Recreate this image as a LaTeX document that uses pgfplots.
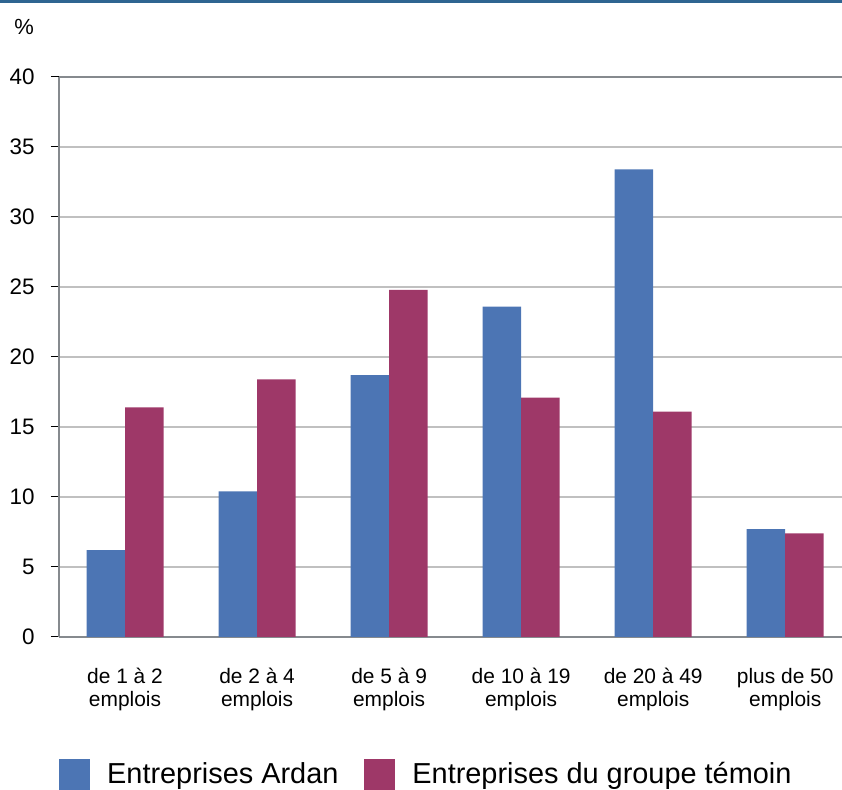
\documentclass[border=0pt]{standalone}
\usepackage{fontspec}
\setmainfont{Liberation Sans}
\usepackage{pgfplots}
\pgfplotsset{compat=1.18}
\definecolor{ardan}{HTML}{4C75B4}
\definecolor{temoin}{HTML}{9E3868}
\definecolor{axisgray}{HTML}{868A8E}
\definecolor{gridgray}{HTML}{C0C0C0}
\definecolor{topband}{HTML}{2E6591}

\begin{document}
\begin{tikzpicture}[x=1bp,y=1bp]
\path[use as bounding box] (0,0) rectangle (842,790);
\fill[topband] (0,787) rectangle (842,790);
\node[font=\fontsize{22}{26}\selectfont] at (24,763) {\%};
\begin{axis}[
	at={(59bp,153bp)}, anchor=south west,
	scale only axis, width=783bp, height=560bp,
	ybar=0pt, bar width=38.5bp,
	xmin=-0.5, xmax=5.43, ymin=0, ymax=40,
	axis x line*=bottom, axis y line*=left,
	axis line style={draw=axisgray, line width=1.6bp, -},
	ytick={0,5,...,35},
	extra y ticks={40},
	extra y tick style={grid style={draw=axisgray, line width=1.6bp}},
	ymajorgrids,
	grid style={draw=gridgray, line width=1.1bp},
	tick align=outside,
	major tick length=8bp,
	tick style={draw=black, line width=1bp},
	yticklabel style={font=\fontsize{22.5}{26}\selectfont, xshift=-13bp},
	/pgf/number format/assume math mode=true,
	xtick={0,1,2,3,4,5},
	xtick style={draw=none},
	xticklabels={{de 1 à 2\\emplois},{de 2 à 4\\emplois},{de 5 à 9\\emplois},{de 10 à 19\\emplois},{de 20 à 49\\emplois},{plus de 50\\emplois}},
	xticklabel style={font=\fontsize{21}{23}\selectfont, align=center, yshift=-20bp},
	extra x ticks={-0.5,0.5,1.5,2.5,3.5,4.5},
	extra x tick labels={},
	extra x tick style={tick style={draw=axisgray, line width=1.6bp}, major tick length=8bp},
	clip=false,
	legend columns=2,
	legend style={draw=none, fill=none, at={(axis description cs:0,-0.245)}, anchor=west,
		font=\fontsize{29}{32}\selectfont, inner sep=0pt,
		/tikz/every odd column/.append style={column sep=15bp},
		/tikz/every even column/.append style={column sep=24bp}},
]
\addplot[fill=ardan, draw=none, legend image code/.code={\fill[ardan] (0bp,-16bp) rectangle (31bp,15bp);}]
	coordinates {(0,6.2) (1,10.4) (2,18.7) (3,23.6) (4,33.4) (5,7.7)};
\addplot[fill=temoin, draw=none, legend image code/.code={\fill[temoin] (0bp,-16bp) rectangle (31bp,15bp);}]
	coordinates {(0,16.4) (1,18.4) (2,24.8) (3,17.1) (4,16.1) (5,7.4)};
\legend{Entreprises Ardan, Entreprises du groupe témoin}
\end{axis}
\end{tikzpicture}
\end{document}
